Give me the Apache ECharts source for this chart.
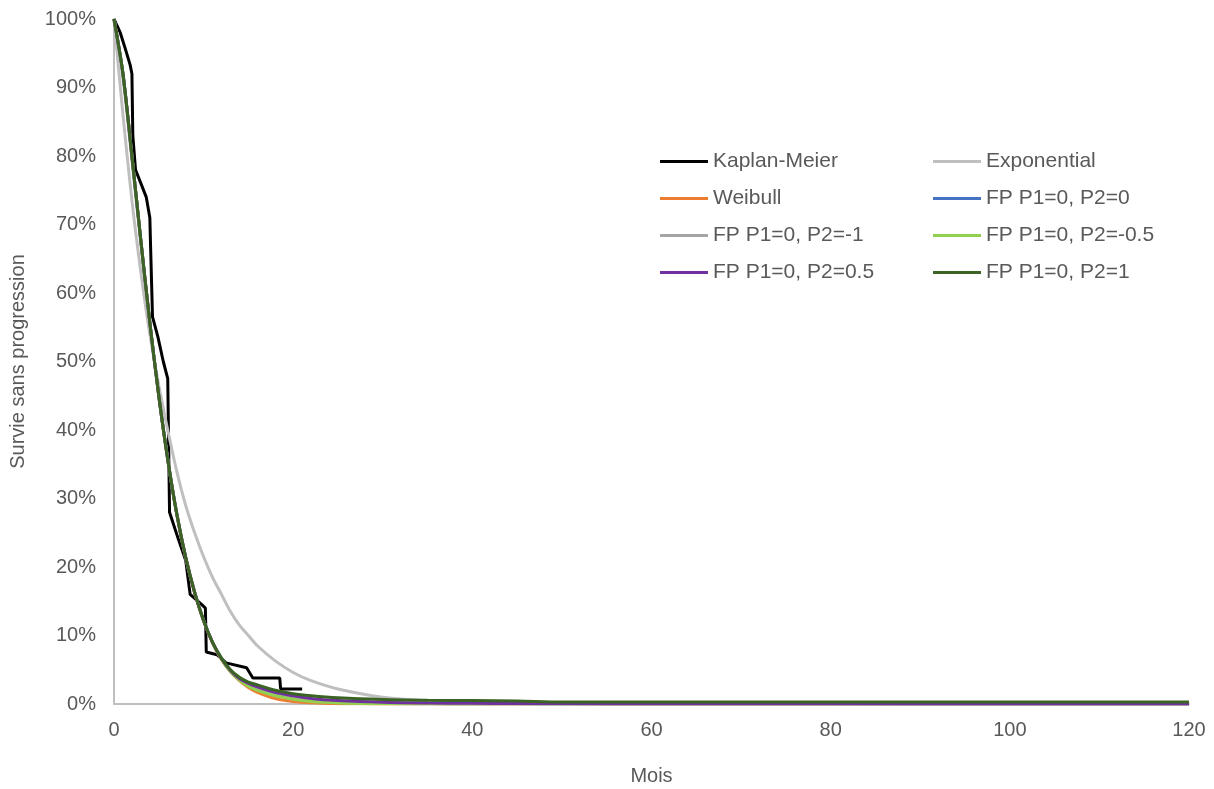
<!DOCTYPE html>
<html lang="fr">
<head>
<meta charset="UTF-8">
<title>Survie sans progression</title>
<script src="https://cdn.jsdelivr.net/npm/echarts@6/dist/echarts.min.js"></script>
<style>
  html, body { margin: 0; padding: 0; background: #fff; }
  #chart { width: 1214px; height: 789px; }
</style>
</head>
<body>
<div id="chart"></div>
<script>
// Kaplan-Meier (mois, %)
var kmMonths = [0, 0.7, 1.3, 1.8, 2.0, 2.1, 2.4, 3.0, 3.6, 4.0, 4.1, 4.3, 4.9, 5.5, 6.0, 6.2, 7.2, 8.0, 8.5, 9.8, 10.2, 10.3, 11.5, 12.5, 14.8, 15.5, 18.5, 18.6, 21];
var kmValues = [100, 98, 95.5, 93.3, 92, 83, 78, 76, 74, 71, 66, 56.5, 53.6, 50, 47.5, 28, 24, 21, 16, 14.5, 14, 7.6, 7.2, 6.0, 5.3, 3.8, 3.8, 2.2, 2.2];

// modèles paramétriques (mois, %)
var months = [0, 1, 2, 3, 4, 5, 6, 7, 8, 9, 10, 11, 12, 13, 14, 15, 16, 18, 20, 22, 25, 30, 35, 40, 45, 50, 60, 80, 100, 120];
var exponential = [100, 86, 73.5, 63, 54, 46.5, 40, 34, 29, 25, 21.5, 18.5, 16, 13.5, 11.5, 10, 8.5, 6.3, 4.6, 3.4, 2.2, 1.0, 0.5, 0.2, 0.1, 0.05, 0, 0, 0, 0];
var weibull = [100, 91.9, 80.1, 67.6, 55.7, 44.9, 35.6, 27.7, 21.3, 16.2, 12.1, 8.9, 6.5, 4.7, 3.4, 2.4, 1.7, 0.8, 0.38, 0.17, 0.05, 0.01, 0, 0, 0, 0, 0, 0, 0, 0];
var fp00 = [100, 92, 80, 67.6, 55.7, 45, 35.7, 27.8, 21.4, 16.3, 12.2, 9.0, 6.6, 4.8, 3.6, 2.8, 2.3, 1.5, 1.0, 0.6, 0.35, 0.15, 0.07, 0.03, 0.02, 0.01, 0, 0, 0, 0];
var fpm1 = [100, 91.5, 79.5, 67.2, 55.5, 45, 35.8, 27.9, 21.5, 16.4, 12.2, 9.0, 6.6, 4.8, 3.6, 2.8, 2.3, 1.5, 0.95, 0.6, 0.3, 0.1, 0.04, 0.01, 0, 0, 0, 0, 0, 0];
var fpm05 = [100, 92, 80, 67.6, 55.7, 45, 35.7, 27.8, 21.4, 16.3, 12.2, 9.0, 6.5, 4.7, 3.5, 2.6, 2.0, 1.2, 0.7, 0.35, 0.15, 0.05, 0.02, 0, 0, 0, 0, 0, 0, 0];
var fp05 = [100, 92, 80, 67.6, 55.7, 45, 35.7, 27.8, 21.4, 16.3, 12.2, 9.0, 6.6, 4.9, 3.7, 3.0, 2.5, 1.7, 1.2, 0.8, 0.5, 0.25, 0.15, 0.1, 0.08, 0.06, 0.04, 0.02, 0.01, 0.01];
var fp1 = [100, 92, 80, 67.6, 55.7, 45, 35.7, 27.8, 21.4, 16.3, 12.2, 9.0, 6.7, 5.0, 3.9, 3.2, 2.8, 2.0, 1.5, 1.2, 0.9, 0.65, 0.55, 0.5, 0.45, 0.3, 0.3, 0.3, 0.3, 0.3];

function pairs(xs, ys) {
  return xs.map(function (x, i) { return [x, ys[i]]; });
}

function curve(name, color, ys) {
  return {
    name: name,
    type: 'line',
    data: pairs(months, ys),
    symbol: 'none',
    smooth: 0.3,
    lineStyle: { color: color, width: 3 },
    itemStyle: { color: color }
  };
}

var txt = '#595959';
var chart = echarts.init(document.getElementById('chart'));

// légende en deux colonnes, icône = trait plein
function legendCol(left, names) {
  return {
    left: left, top: 151, orient: 'vertical', padding: 0,
    icon: 'rect', itemWidth: 48, itemHeight: 3, itemGap: 16,
    textStyle: { color: txt, fontSize: 21 },
    data: names
  };
}

var option = {
  animation: false,
  textStyle: { fontFamily: 'Liberation Sans, Arial, sans-serif' },
  grid: { left: 114, right: 25, top: 19, bottom: 85, outerBoundsMode: 'none' },
  legend: [
    legendCol(660, ['Kaplan-Meier', 'Weibull', 'FP P1=0, P2=-1', 'FP P1=0, P2=0.5']),
    legendCol(933, ['Exponential', 'FP P1=0, P2=0', 'FP P1=0, P2=-0.5', 'FP P1=0, P2=1'])
  ],
  xAxis: {
    type: 'value', min: 0, max: 120, interval: 20,
    name: 'Mois', nameLocation: 'middle', nameGap: 62,
    nameTextStyle: { color: txt, fontSize: 20 },
    axisLine: { lineStyle: { color: '#bfbfbf', width: 2 } },
    axisTick: { show: false },
    axisLabel: { color: txt, fontSize: 20, margin: 16 },
    splitLine: { show: false }
  },
  yAxis: {
    type: 'value', min: 0, max: 100, interval: 10,
    name: 'Survie sans progression', nameLocation: 'middle', nameGap: 86,
    nameTextStyle: { color: txt, fontSize: 20 },
    axisLine: { show: true, lineStyle: { color: '#bfbfbf', width: 2 } },
    axisTick: { show: false },
    axisLabel: { color: txt, fontSize: 20, margin: 18, formatter: '{value}%' },
    splitLine: { show: false }
  },
  series: [
    {
      name: 'Kaplan-Meier', type: 'line', data: pairs(kmMonths, kmValues),
      symbol: 'none', lineStyle: { color: '#000000', width: 3 }, itemStyle: { color: '#000000' }
    },
    curve('Exponential', '#bfbfbf', exponential),
    curve('Weibull', '#ed7d31', weibull),
    curve('FP P1=0, P2=0', '#4472c4', fp00),
    curve('FP P1=0, P2=-1', '#a5a5a5', fpm1),
    curve('FP P1=0, P2=-0.5', '#92d050', fpm05),
    curve('FP P1=0, P2=0.5', '#7030a0', fp05),
    curve('FP P1=0, P2=1', '#3b6424', fp1)
  ]
};

chart.setOption(option);
</script>
</body>
</html>
